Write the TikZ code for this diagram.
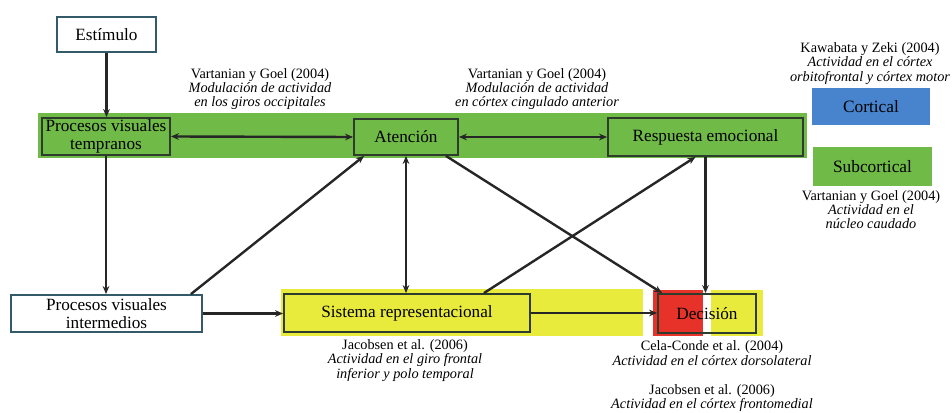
\documentclass[tikz,border=0pt]{standalone}
\usepackage{fontspec}
\setmainfont{Liberation Serif}
\usetikzlibrary{arrows.meta}
\newdimen\pxu \pxu=0.75pt
\definecolor{bandgreen}{RGB}{112,186,72}
\definecolor{cortblue}{RGB}{72,132,206}
\definecolor{bandyellow}{RGB}{232,234,60}
\definecolor{decred}{RGB}{230,50,40}
\definecolor{boxedge}{RGB}{45,60,45}
\definecolor{whiteedge}{RGB}{50,90,105}
\tikzset{
  x=0.75pt, y=-0.75pt,
  base/.style={draw=boxedge, line width=1.4pt, inner sep=0pt, align=center,
    font=\fontsize{12.9}{13.2}\selectfont},
  whitebox/.style={base, draw=whiteedge, fill=white},
  greenbox/.style={base, fill=bandgreen},
  yellowbox/.style={base},
  legend/.style={inner sep=0pt, align=center, font=\fontsize{13}{14}\selectfont},
  note/.style={inner sep=0pt, align=center, font=\fontsize{10.7}{10.7}\selectfont},
  conn/.style={line width=1.8pt, draw=black!85, -{Stealth[length=6pt,width=5pt]}},
  bconn/.style={conn, {Stealth[length=6pt,width=5pt]}-{Stealth[length=6pt,width=5pt]}},
}
\begin{document}
\begin{tikzpicture}
\useasboundingbox (0,0) rectangle (952,413);
% bands
\fill[bandgreen] (38,113) rectangle (807,158);
\fill[bandyellow] (281,289) rectangle (643,336);
\fill[decred] (653,290) rectangle (703,336);
\fill[bandyellow] (711,290) rectangle (763,336);
% legend boxes
\node[legend, fill=cortblue, minimum width=118\pxu, minimum height=37\pxu] (cort) at (871,106.5) {Cortical};
\node[legend, fill=bandgreen, minimum width=119\pxu, minimum height=39\pxu] (subc) at (872.5,166.5) {Subcortical};
% main boxes
\node[whitebox, minimum width=99\pxu, minimum height=35\pxu] (est) at (106.5,34.5) {Estímulo};
\node[greenbox, minimum width=128\pxu, minimum height=37\pxu] (pvt) at (106,136.5) {Procesos visuales\\tempranos};
\node[greenbox, minimum width=104\pxu, minimum height=36\pxu] (aten) at (406,137) {Atención};
\node[greenbox, minimum width=195\pxu, minimum height=38\pxu] (resp) at (705.5,137) {Respuesta emocional};
\node[whitebox, minimum width=191\pxu, minimum height=37\pxu] (pvi) at (106.5,313.5) {Procesos visuales\\intermedios};
\node[yellowbox, minimum width=246\pxu, minimum height=38\pxu] (sr) at (407,313) {Sistema representacional};
\node[yellowbox, minimum width=98\pxu, minimum height=39\pxu] (dec) at (707,313.5) {Decisión};
% notes
\node[note] (n1) at (260,89) {Vartanian y Goel (2004)\\\textit{Modulación de actividad}\\\textit{en los giros occipitales}};
\node[note] (n2) at (537,89) {Vartanian y Goel (2004)\\\textit{Modulación de actividad}\\\textit{en córtex cingulado anterior}};
\node[note] (n3) at (870,63.5) {Kawabata y Zeki (2004)\\\textit{Actividad en el córtex}\\\textit{orbitofrontal y córtex motor}};
\node[note] (n4) at (871,209.5) {Vartanian y Goel (2004)\\\textit{Actividad en el}\\\textit{núcleo caudado}};
\node[note] (n5) at (405,360.5) {Jacobsen et al. (2006)\\\textit{Actividad en el giro frontal}\\\textit{inferior y polo temporal}};
\node[note] (n6) at (712,353) {Cela-Conde et al. (2004)\\\textit{Actividad en el córtex dorsolateral}};
\node[note] (n7) at (712,398) {Jacobsen et al. (2006)\\\textit{Actividad en el córtex frontomedial}};
% connectors
\draw[conn] (est.south) -- (est.south |- pvt.north);
\draw[conn] (pvt.south) -- (pvt.south |- pvi.north);
\draw[bconn] (pvt.east) -- (aten.west);
\draw[bconn] (aten.east) -- (resp.west);
\draw[conn] ([xshift=-12\pxu]pvi.north east) -- ([xshift=11\pxu]aten.south west);
\draw[bconn] (aten.south) -- (aten.south |- sr.north);
\draw[conn] ([xshift=-13\pxu]aten.south east) -- ([xshift=5\pxu]dec.north west);
\draw[conn] ([xshift=-47\pxu]sr.north east) -- ([xshift=-10\pxu]resp.south);
\draw[conn] (resp.south) -- (resp.south |- dec.north);
\draw[conn] (pvi.east) -- (pvi.east -| sr.west);
\draw[conn] (sr.east) -- (sr.east -| dec.west);
\end{tikzpicture}
\end{document}
